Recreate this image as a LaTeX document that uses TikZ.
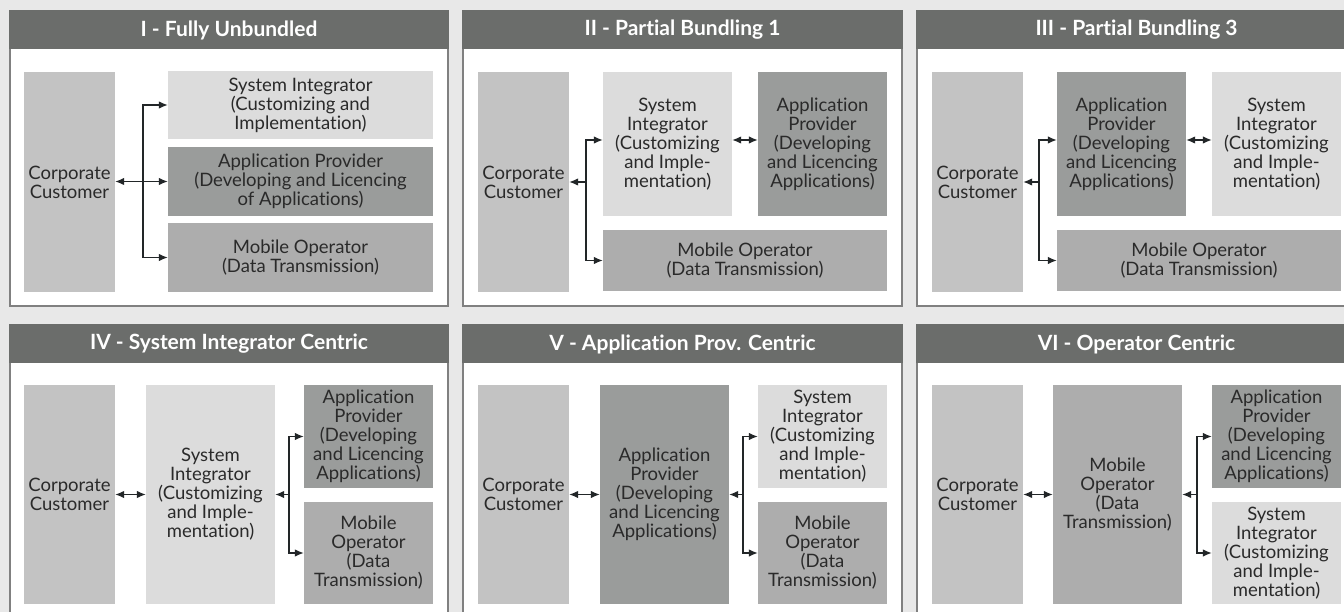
\documentclass[tikz,border=0pt]{standalone}
\usepackage{fontspec}
\setmainfont[RawFeature={-liga;-clig;-calt;-dlig}]{Lato}
\usetikzlibrary{arrows.meta}
\definecolor{bg}{HTML}{E8E8E8}
\definecolor{hdr}{HTML}{6B6D6B}
\definecolor{ccc}{HTML}{C3C3C3}
\definecolor{sic}{HTML}{DCDCDC}
\definecolor{apc}{HTML}{9A9C9B}
\definecolor{moc}{HTML}{ADADAD}
\definecolor{pbd}{HTML}{808080}
\definecolor{txt}{HTML}{2A2A2A}
\definecolor{arc}{HTML}{222628}
\tikzset{
  panel/.style={draw=pbd, line width=1.3pt, fill=white},
  hdrbar/.style={fill=hdr},
  hdrtext/.style={text=white, inner sep=0pt, font=\fontsize{21}{24}\selectfont\bfseries},
  blk/.style={inner sep=0pt, align=center, text=txt, font=\fontsize{18.5}{19}\selectfont},
  conn/.style={draw=arc, line width=1.3pt, -{Latex[length=9pt,width=7.5pt]}},
  conntwo/.style={draw=arc, line width=1.3pt, {Latex[length=9pt,width=7.5pt]}-{Latex[length=9pt,width=7.5pt]}},
}
% \mkbox{name}{x1}{y1}{x2}{y2}{colour}{text}
\newcommand\mkbox[7]{%
  \node[blk, fill=#6, minimum width={#4-#2}, minimum height={#5-#3}] (#1) at ({(#2+#4)/2},{(#3+#5)/2}) {#7};}
% \mkpanel{name}{x1}{y1}{x2}{y2}{title}
\newcommand\mkpanel[6]{%
  \draw[panel] (#2,#3) rectangle (#4,#5);
  \fill[hdrbar] (#2-0.65,#3-0.65) rectangle (#4+0.65,#3+38);
  \node[hdrtext] (#1) at ({(#2+#4)/2},#3+19) {#6};}
\begin{document}
\begin{tikzpicture}[x=1pt,y=-1pt]
\useasboundingbox (0,0) rectangle (1344,612);
\clip (0,0) rectangle (1344,612);
\fill[bg] (0,0) rectangle (1344,612);

% ---------- Panel I ----------
\mkpanel{t1}{10}{11}{448}{306}{I - Fully Unbundled}
\mkbox{cc1}{24}{72}{115}{292}{ccc}{Corporate\\Customer}
\mkbox{si1}{168}{71}{433}{139}{sic}{System Integrator\\(Customizing and\\Implementation)}
\mkbox{ap1}{168}{147}{433}{216}{apc}{Application Provider\\(Developing and Licencing\\of Applications)}
\mkbox{mo1}{168}{223}{433}{292}{moc}{Mobile Operator\\(Data Transmission)}
\coordinate (j1) at (143,181.5);
\draw[conntwo] (cc1.east |- ap1.west) -- (ap1.west);
\draw[conn] (j1) |- (si1.west);
\draw[conn] (j1) |- (mo1.west);

% ---------- Panel II ----------
\mkpanel{t2}{463}{11}{902}{306}{II - Partial Bundling 1}
\mkbox{cc2}{478}{72}{569}{292}{ccc}{Corporate\\Customer}
\mkbox{si2}{603}{72}{732}{216}{sic}{System\\Integrator\\(Customizing\\and Imple-\\mentation)}
\mkbox{ap2}{758}{72}{887}{216}{apc}{Application\\Provider\\(Developing\\and Licencing\\Applications)}
\mkbox{mo2}{603}{230}{887}{291}{moc}{Mobile Operator\\(Data Transmission)}
\coordinate (j2) at (586,182);
\draw[conn] (j2) -- (cc2.east |- j2);
\draw[conn] (j2) |- ([yshift=4pt]si2.west);
\draw[conn] (j2) |- (mo2.west);
\draw[conntwo] ([yshift=4pt]si2.east) -- ([yshift=4pt]ap2.west);

% ---------- Panel III ----------
\mkpanel{t3}{917}{11}{1356}{306}{III - Partial Bundling 3}
\mkbox{cc3}{932}{72}{1023}{292}{ccc}{Corporate\\Customer}
\mkbox{ap3}{1057}{72}{1186}{216}{apc}{Application\\Provider\\(Developing\\and Licencing\\Applications)}
\mkbox{si3}{1212}{72}{1341}{216}{sic}{System\\Integrator\\(Customizing\\and Imple-\\mentation)}
\mkbox{mo3}{1057}{230}{1341}{291}{moc}{Mobile Operator\\(Data Transmission)}
\coordinate (j3) at (1039,182);
\draw[conn] (j3) -- (cc3.east |- j3);
\draw[conn] (j3) |- ([yshift=4pt]ap3.west);
\draw[conn] (j3) |- (mo3.west);
\draw[conntwo] ([yshift=4pt]ap3.east) -- ([yshift=4pt]si3.west);

% ---------- Panel IV ----------
\mkpanel{t4}{10}{325}{448}{620}{IV - System Integrator Centric}
\mkbox{cc4}{24}{385}{115}{604}{ccc}{Corporate\\Customer}
\mkbox{si4}{146}{385}{275}{604}{sic}{System\\Integrator\\(Customizing\\and Imple-\\mentation)}
\mkbox{ap4}{304}{385}{433}{488}{apc}{Application\\Provider\\(Developing\\and Licencing\\Applications)}
\mkbox{mo4}{304}{502}{433}{604}{moc}{Mobile\\Operator\\(Data\\Transmission)}
\coordinate (j4) at (289,494.5);
\draw[conntwo] (cc4.east) -- (si4.west);
\draw[conn] (j4) -- (si4.east);
\draw[conn] (j4) |- (ap4.west);
\draw[conn] (j4) |- (mo4.west);

% ---------- Panel V ----------
\mkpanel{t5}{463}{325}{902}{620}{V - Application Prov. Centric}
\mkbox{cc5}{478}{385}{569}{604}{ccc}{Corporate\\Customer}
\mkbox{ap5}{600}{385}{729}{604}{apc}{Application\\Provider\\(Developing\\and Licencing\\Applications)}
\mkbox{si5}{758}{385}{887}{488}{sic}{System\\Integrator\\(Customizing\\and Imple-\\mentation)}
\mkbox{mo5}{758}{502}{887}{604}{moc}{Mobile\\Operator\\(Data\\Transmission)}
\coordinate (j5) at (743,494.5);
\draw[conntwo] (cc5.east) -- (ap5.west);
\draw[conn] (j5) -- (ap5.east);
\draw[conn] (j5) |- (si5.west);
\draw[conn] (j5) |- (mo5.west);

% ---------- Panel VI ----------
\mkpanel{t6}{917}{325}{1356}{620}{VI - Operator Centric}
\mkbox{cc6}{932}{385}{1023}{604}{ccc}{Corporate\\Customer}
\mkbox{mo6}{1053}{385}{1182}{604}{moc}{Mobile\\Operator\\(Data\\Transmission)}
\mkbox{ap6}{1212}{385}{1341}{488}{apc}{Application\\Provider\\(Developing\\and Licencing\\Applications)}
\mkbox{si6}{1212}{502}{1341}{604}{sic}{System\\Integrator\\(Customizing\\and Imple-\\mentation)}
\coordinate (j6) at (1197,494.5);
\draw[conntwo] (cc6.east) -- (mo6.west);
\draw[conn] (j6) -- (mo6.east);
\draw[conn] (j6) |- (ap6.west);
\draw[conn] (j6) |- (si6.west);
\end{tikzpicture}
\end{document}
